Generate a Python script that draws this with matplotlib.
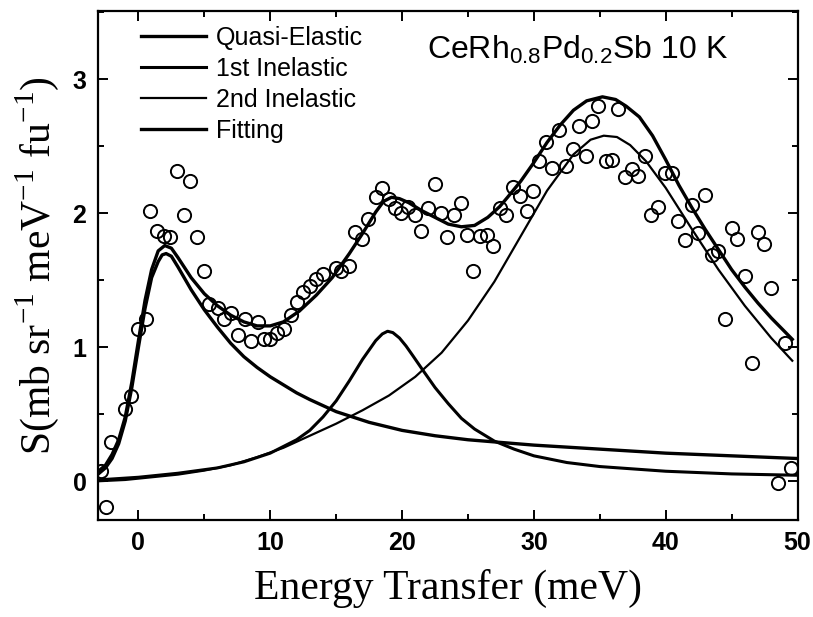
import matplotlib
matplotlib.use("Agg")
import matplotlib.pyplot as plt
from matplotlib.ticker import MultipleLocator

# ---- data ----
data_x = [-2.83, -2.45, -2.07, -1.01, -0.55, -0.05, 0.58, 0.91, 1.42, 1.97, 2.43, 2.91,
          3.44, 3.95, 4.43, 4.96, 5.39, 6.02, 6.48, 7.04, 7.54, 8.05, 8.56, 9.06, 9.52,
          10.0, 10.5, 11.03, 11.54, 12.02, 12.48, 12.98, 13.49, 14.0, 14.96, 15.39, 15.97,
          16.4, 16.98, 17.41, 18.0, 18.5, 19.0, 19.5, 19.95, 20.45, 20.96, 21.47, 21.97,
          22.48, 22.98, 23.44, 23.94, 24.45, 24.96, 25.4, 25.9, 26.45, 26.9, 27.4, 27.92,
          28.42, 28.93, 29.44, 29.94, 30.4, 30.9, 31.4, 31.9, 32.4, 32.93, 33.43, 33.94,
          34.37, 34.87, 35.46, 35.94, 36.4, 36.9, 37.46, 37.9, 38.4, 38.9, 39.43, 39.94,
          40.45, 40.9, 41.46, 41.96, 42.47, 42.98, 43.49, 43.99, 44.5, 45.0, 45.43, 46.0,
          46.52, 46.98, 47.48, 47.99, 48.54, 49.05, 49.5]
data_y = [0.08, -0.19, 0.29, 0.54, 0.64, 1.14, 1.21, 2.02, 1.87, 1.83, 1.82, 2.32,
          1.99, 2.24, 1.82, 1.57, 1.32, 1.29, 1.21, 1.26, 1.09, 1.21, 1.05, 1.19, 1.06,
          1.06, 1.11, 1.14, 1.24, 1.34, 1.41, 1.46, 1.51, 1.55, 1.59, 1.57, 1.61,
          1.86, 1.81, 1.96, 2.12, 2.19, 2.11, 2.04, 2.00, 2.05, 1.99, 1.87, 2.04,
          2.22, 2.00, 1.82, 1.99, 2.08, 1.84, 1.57, 1.83, 1.84, 1.76, 2.04, 1.99,
          2.20, 2.13, 2.02, 2.17, 2.39, 2.53, 2.34, 2.62, 2.35, 2.48, 2.65, 2.43,
          2.69, 2.80, 2.39, 2.40, 2.78, 2.27, 2.33, 2.28, 2.43, 1.99, 2.05, 2.30,
          2.30, 1.94, 1.80, 2.06, 1.85, 2.14, 1.69, 1.72, 1.21, 1.89, 1.81, 1.53,
          0.88, 1.86, 1.77, 1.44, -0.01, 1.03, 0.10]

qe_x = [-3.1, -2.5, -2.0, -1.5, -1.0, -0.5, 0.0, 0.5, 1.0, 1.5, 1.8, 2.1, 2.5, 3.0, 4.0,
        5.0, 6.0, 7.0, 8.0, 9.0, 10.0, 11.0, 12.0, 13.0, 15.0, 17.5, 20.0, 22.5, 25.0,
        30.0, 35.0, 40.0, 45.0, 50.0]
qe_y = [0.05, 0.10, 0.17, 0.28, 0.45, 0.70, 1.00, 1.29, 1.52, 1.64, 1.69, 1.70, 1.68,
        1.60, 1.43, 1.28, 1.15, 1.03, 0.93, 0.85, 0.78, 0.72, 0.66, 0.61, 0.52, 0.44,
        0.38, 0.34, 0.31, 0.27, 0.24, 0.21, 0.19, 0.17]

in1_x = [-3.1, 0.0, 3.0, 6.0, 8.0, 10.0, 11.0, 12.0, 13.0, 14.0, 15.0, 16.0, 17.0, 17.5,
         18.0, 18.5, 18.9, 19.3, 19.8, 20.3, 20.8, 21.5, 22.5, 23.5, 24.5, 25.5, 27.0,
         28.5, 30.0, 32.5, 35.0, 40.0, 45.0, 50.0]
in1_y = [0.01, 0.03, 0.06, 0.10, 0.145, 0.21, 0.26, 0.31, 0.38, 0.48, 0.60, 0.75, 0.91,
         0.98, 1.05, 1.10, 1.12, 1.11, 1.07, 1.01, 0.94, 0.84, 0.70, 0.58, 0.47, 0.39,
         0.30, 0.24, 0.19, 0.14, 0.11, 0.075, 0.055, 0.045]

in2_x = [-3.1, -1.0, 1.0, 3.0, 5.0, 7.0, 9.0, 11.0, 13.0, 15.0, 17.0, 19.0, 21.0, 23.0,
         25.0, 27.0, 29.0, 31.0, 33.0, 34.3, 35.3, 36.3, 37.3, 38.5, 40.0, 42.0, 44.0,
         46.0, 48.0, 49.6]
in2_y = [0.00, 0.01, 0.03, 0.05, 0.08, 0.12, 0.18, 0.25, 0.34, 0.43, 0.53, 0.64, 0.78,
         0.96, 1.20, 1.49, 1.83, 2.17, 2.44, 2.55, 2.58, 2.57, 2.51, 2.39, 2.19, 1.88,
         1.58, 1.31, 1.07, 0.90]

fit_x = [-3.1, -2.5, -2.0, -1.5, -1.0, -0.5, 0.0, 0.5, 1.0, 1.5, 2.0, 2.5, 3.0, 4.0, 5.0,
         6.0, 7.0, 8.0, 9.0, 10.0, 11.0, 12.2, 13.5, 14.7, 16.0, 17.0, 18.0, 18.6, 19.2,
         19.8, 20.5, 21.5, 22.5, 23.5, 24.5, 25.5, 26.5, 27.4, 28.0, 29.0, 30.0, 31.0,
         32.0, 33.0, 34.0, 35.2, 36.2, 37.0, 38.0, 39.0, 40.0, 41.0, 42.0, 43.0, 44.0,
         45.0, 46.0, 47.0, 48.0, 49.0, 49.6]
fit_y = [0.07, 0.12, 0.20, 0.31, 0.48, 0.74, 1.05, 1.35, 1.58, 1.72, 1.76, 1.74, 1.67,
         1.52, 1.40, 1.31, 1.24, 1.19, 1.16, 1.16, 1.19, 1.27, 1.39, 1.52, 1.70, 1.85,
         2.01, 2.09, 2.12, 2.11, 2.08, 2.02, 1.97, 1.92, 1.90, 1.91, 1.97, 2.05, 2.12,
         2.24, 2.38, 2.53, 2.66, 2.77, 2.84, 2.87, 2.85, 2.80, 2.72, 2.58, 2.40, 2.21,
         2.04, 1.88, 1.73, 1.58, 1.45, 1.33, 1.22, 1.12, 1.06]

labels = ["Quasi-Elastic", "1st Inelastic", "2nd Inelastic", "Fitting"]
title_text = r"CeRh$_{0.8}$Pd$_{0.2}$Sb 10 K"
x_ticks = [0, 10, 20, 30, 40, 50]
y_ticks = [0, 1, 2, 3]

plt.rcParams['mathtext.fontset'] = 'custom'
plt.rcParams['mathtext.rm'] = 'Liberation Sans'
plt.rcParams['mathtext.it'] = 'Liberation Sans'

fig = plt.figure(figsize=(8.13, 6.17), dpi=100)
ax = fig.add_axes([0.120, 0.157, 0.861, 0.825])

l1, = ax.plot(qe_x, qe_y, color='black', lw=2.4)
l2, = ax.plot(in1_x, in1_y, color='black', lw=2.2)
l3, = ax.plot(in2_x, in2_y, color='black', lw=1.6)
l4, = ax.plot(fit_x, fit_y, color='black', lw=2.4)
ax.plot(data_x, data_y, linestyle='none', marker='o', markersize=9.5,
        markerfacecolor='none', markeredgecolor='black', markeredgewidth=1.4)

ax.set_xlim(-3.1, 50)
ax.set_ylim(-0.29, 3.51)
ax.set_xticks(x_ticks)
ax.set_yticks(y_ticks)
ax.xaxis.set_minor_locator(MultipleLocator(5))
ax.yaxis.set_minor_locator(MultipleLocator(0.5))
ax.tick_params(which='both', direction='in', top=True, right=True, width=1.4)
ax.tick_params(which='major', length=7, labelsize=18, pad=8)
ax.tick_params(which='minor', length=4)
for lab in ax.get_xticklabels() + ax.get_yticklabels():
    lab.set_fontfamily('Liberation Sans')
    lab.set_fontweight('bold')
for s in ax.spines.values():
    s.set_linewidth(1.6)

ax.set_xlabel("Energy Transfer (meV)", fontfamily='Liberation Serif', fontsize=30, labelpad=10)
ax.set_ylabel(r"S(mb sr$^{\mathregular{-1}}$ meV$^{\mathregular{-1}}$ fu$^{\mathregular{-1}}$)",
              fontfamily='Liberation Serif', fontsize=30, labelpad=8)

leg = ax.legend([l1, l2, l3, l4], labels, loc='upper left', bbox_to_anchor=(0.04, 1.0),
                frameon=False, prop={'family': 'Liberation Sans', 'size': 18},
                handlelength=2.6, handletextpad=0.4, labelspacing=0.28, borderaxespad=0.2)

ax.text(0.47, 0.955, title_text, transform=ax.transAxes, fontsize=23,
        fontfamily='Liberation Sans', ha='left', va='top')

fig.savefig("out.png", dpi=100)
